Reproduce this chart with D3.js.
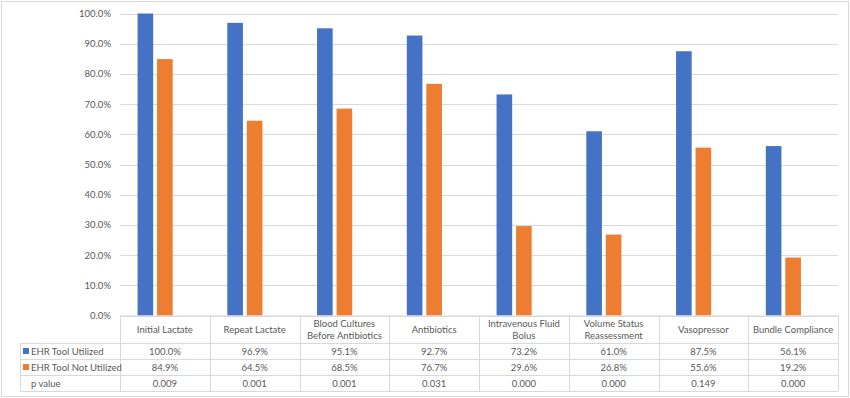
<!DOCTYPE html>
<html>
<head>
<meta charset="utf-8">
<script src="https://cdn.jsdelivr.net/npm/d3@7"></script>
<style>
  body { margin: 0; background: #fff; }
  text { font-family: Lato, "Liberation Sans", Arial, sans-serif; fill: #595959; }
</style>
</head>
<body>
<div class="chart"></div>
<script>
var svgWidth = 850;
var svgHeight = 398;

// data
var categories = [
    ["Initial Lactate"],
    ["Repeat Lactate"],
    ["Blood Cultures", "Before Antibiotics"],
    ["Antibiotics"],
    ["Intravenous Fluid", "Bolus"],
    ["Volume Status", "Reassessment"],
    ["Vasopressor"],
    ["Bundle Compliance"]
];
var seriesNames = ["EHR Tool Utilized", "EHR Tool Not Utilized", "p value"];
var utilized = [1.000, 0.969, 0.951, 0.927, 0.732, 0.610, 0.875, 0.561];
var notUtilized = [0.849, 0.645, 0.685, 0.767, 0.296, 0.268, 0.556, 0.192];
var pValues = [0.009, 0.001, 0.001, 0.031, 0.000, 0.000, 0.149, 0.000];
var yTicks = [0, 0.1, 0.2, 0.3, 0.4, 0.5, 0.6, 0.7, 0.8, 0.9, 1.0];

var colors = ["#4472C4", "#ED7D31", "none"];
var gridColor = "#d9d9d9";
var fontSize = 9.5;

var plot = { left: 120, right: 838, top: 13.5, bottom: 315.5 };
var tableLeft = 20;
var headerBottom = 343;
var rowH = 16;

var svg = d3.select(".chart")
    .append("svg")
    .attr("width", svgWidth)
    .attr("height", svgHeight);

// outer border
svg.append("rect")
    .attr("x", 1.5).attr("y", 1.5)
    .attr("width", svgWidth - 3).attr("height", svgHeight - 3)
    .attr("fill", "none")
    .attr("stroke", gridColor);

var idx = d3.range(categories.length);

var xScale = d3.scaleBand()
    .domain(idx)
    .range([plot.left, plot.right])
    .padding(0);

var xInner = d3.scaleBand()
    .domain([0, 1, 2])
    .range([0, xScale.bandwidth()])
    .paddingInner(0.2)
    .paddingOuter(0.9);

var yScale = d3.scaleLinear()
    .domain([0, 1])
    .range([plot.bottom, plot.top]);

// gridlines
svg.append("g")
    .selectAll("line")
    .data(yTicks)
    .enter()
    .append("line")
    .attr("x1", plot.left)
    .attr("x2", plot.right)
    .attr("y1", d => Math.round(yScale(d)) + 0.5)
    .attr("y2", d => Math.round(yScale(d)) + 0.5)
    .attr("stroke", gridColor);

// y axis labels
var leftAxis = d3.axisLeft(yScale)
    .tickValues(yTicks)
    .tickFormat(d3.format(".1%"))
    .tickSize(0)
    .tickPadding(9);

var yAxis = svg.append("g")
    .attr("transform", `translate(${plot.left}, 0)`)
    .call(leftAxis);
yAxis.select(".domain").remove();
yAxis.selectAll("text")
    .attr("font-size", fontSize)
    .attr("fill", "#595959")
    .style("font-family", "Lato, 'Liberation Sans', Arial, sans-serif");

// bars
var series = [utilized, notUtilized, pValues];
series.forEach(function (vals, s) {
    if (colors[s] === "none") return;
    svg.append("g")
        .selectAll("rect")
        .data(vals)
        .enter()
        .append("rect")
        .attr("x", (d, i) => xScale(i) + xInner(s))
        .attr("width", xInner.bandwidth())
        .attr("y", d => yScale(d))
        .attr("height", d => yScale(0) - yScale(d))
        .attr("fill", colors[s]);
});

// data table
var table = svg.append("g");
var rowTop = d => headerBottom + d * rowH;

// horizontal lines
table.append("line")
    .attr("x1", plot.left).attr("x2", plot.right)
    .attr("y1", plot.bottom + 0.5).attr("y2", plot.bottom + 0.5)
    .attr("stroke", gridColor);
[0, 1, 2, 3].forEach(function (r) {
    table.append("line")
        .attr("x1", tableLeft).attr("x2", plot.right)
        .attr("y1", rowTop(r) + 0.5).attr("y2", rowTop(r) + 0.5)
        .attr("stroke", gridColor);
});

// vertical lines
table.append("line")
    .attr("x1", tableLeft + 0.5).attr("x2", tableLeft + 0.5)
    .attr("y1", headerBottom).attr("y2", rowTop(3))
    .attr("stroke", gridColor);
idx.concat([categories.length]).forEach(function (i) {
    var x = i < categories.length ? xScale(i) : plot.right;
    table.append("line")
        .attr("x1", Math.round(x) + 0.5).attr("x2", Math.round(x) + 0.5)
        .attr("y1", plot.bottom).attr("y2", rowTop(3))
        .attr("stroke", gridColor);
});

// header labels
var headerMid = (plot.bottom + headerBottom) / 2;
idx.forEach(function (i) {
    var lines = categories[i];
    var t = table.append("text")
        .attr("text-anchor", "middle")
        .attr("font-size", fontSize);
    lines.forEach(function (ln, k) {
        t.append("tspan")
            .attr("x", xScale(i) + xScale.bandwidth() / 2)
            .attr("y", headerMid + 3.5 + (k - (lines.length - 1) / 2) * 12)
            .text(ln);
    });
});

// row labels with legend keys
seriesNames.forEach(function (name, s) {
    var cy = rowTop(s) + rowH / 2;
    if (colors[s] !== "none") {
        table.append("rect")
            .attr("x", 23).attr("y", cy - 3)
            .attr("width", 6).attr("height", 6)
            .attr("fill", colors[s]);
    }
    table.append("text")
        .attr("x", 31)
        .attr("y", cy + 3.5)
        .attr("font-size", fontSize)
        .text(name);
});

// cell values
var pct = d3.format(".1%");
var p3 = d3.format(".3f");
series.forEach(function (vals, s) {
    table.append("g")
        .selectAll("text")
        .data(vals)
        .enter()
        .append("text")
        .attr("x", (d, i) => xScale(i) + xScale.bandwidth() / 2)
        .attr("y", rowTop(s) + rowH / 2 + 3.5)
        .attr("text-anchor", "middle")
        .attr("font-size", fontSize)
        .text(d => s < 2 ? pct(d) : p3(d));
});
</script>
</body>
</html>
